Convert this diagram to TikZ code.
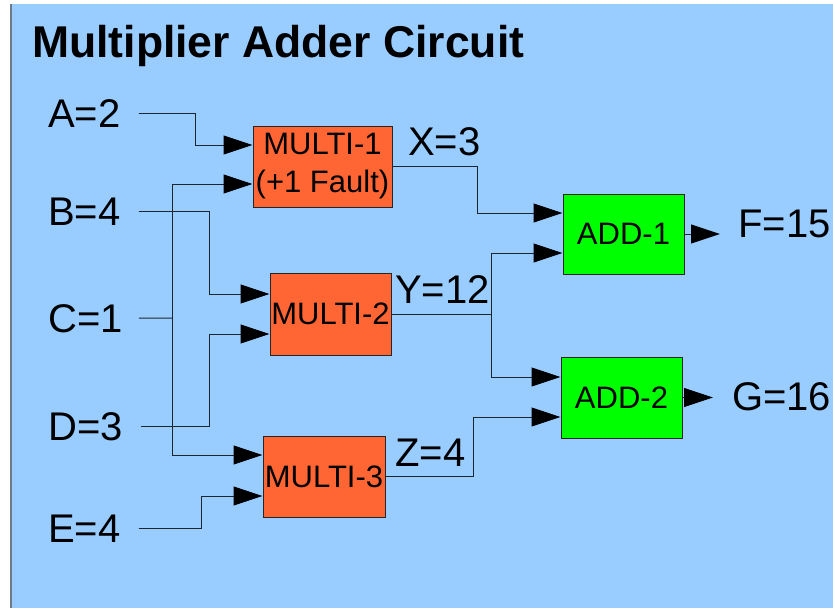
\documentclass[tikz,border=0pt]{standalone}
\usepackage{fontspec}
\setmainfont{Liberation Sans}
\usetikzlibrary{arrows.meta}
\definecolor{bgblue}{HTML}{99CCFF}
\definecolor{multorange}{HTML}{FF6633}
\definecolor{addgreen}{HTML}{00FF00}
\definecolor{framegray}{HTML}{6E7A86}
\definecolor{wiregray}{HTML}{1C2632}

\tikzset{
  wire/.style={draw=wiregray, line width=1pt},
  feed/.style={wire, -{Triangle[length=29pt,width=19pt,color=black]}},
  gate/.style={draw=black!85, line width=1pt, align=center, inner sep=0pt,
    font=\fontsize{31}{38}\selectfont},
  multbox/.style={gate, fill=multorange},
  addbox/.style={gate, fill=addgreen},
  sig/.style={inner sep=0pt, anchor=base west, font=\fontsize{40}{44}\selectfont},
}

\begin{document}
\begin{tikzpicture}[x=1pt,y=-1pt]
  \useasboundingbox (0,0) rectangle (833,608);
  \fill[bgblue] (11,4) rectangle (833,608);
  \draw[framegray, line width=2pt] (11,4) -- (11,608);

  \node[inner sep=0pt, anchor=base west, font=\fontsize{44.5}{48}\selectfont\bfseries]
    (title) at (32,57) {Multiplier Adder Circuit};

  % inputs
  \node[sig] (A) at (48,127) {A=2};
  \node[sig] (B) at (48,225) {B=4};
  \node[sig] (C) at (48,332) {C=1};
  \node[sig] (D) at (48,440) {D=3};
  \node[sig] (E) at (48,542) {E=4};

  % gates
  \node[multbox, minimum width=139pt, minimum height=81pt] (M1) at (322.5,166.5) {MULTI-1\\(+1 Fault)};
  \node[multbox, minimum width=121pt, minimum height=82pt] (M2) at (330.5,314) {MULTI-2};
  \node[multbox, minimum width=122pt, minimum height=81pt] (M3) at (324,476.5) {MULTI-3};
  \node[addbox, minimum width=121pt, minimum height=80pt] (ADD1) at (623.5,234) {ADD-1};
  \node[addbox, minimum width=121pt, minimum height=81pt] (ADD2) at (621.5,397.5) {ADD-2};

  % intermediate and outputs
  \node[sig] (X) at (408,155) {X=3};
  \node[sig] (Y) at (395,303) {Y=12};
  \node[sig] (Z) at (395,466) {Z=4};
  \node[sig] (F) at (738,237) {F=15};
  \node[sig] (G) at (732,410) {G=16};

  \coordinate (cjoin) at (172,318);
  \coordinate (ysplit) at (491,314);

  % wires
  \draw[feed] ([xshift=18pt]A.east) -- ++(57,0) |- ([yshift=21.5pt]M1.west);
  \draw[feed] ([xshift=18pt]B.east) -- ++(71,0) |- ([yshift=20pt]M2.west);
  \draw[wire] ([xshift=16pt]C.east) -- (cjoin);
  \draw[feed] (cjoin) |- ([yshift=-17.5pt]M1.west);
  \draw[feed] (cjoin) |- ([yshift=21.5pt]M3.west);
  \draw[feed] ([xshift=18pt]D.east) -- ++(69,0) |- ([yshift=-20pt]M2.west);
  \draw[feed] ([xshift=18pt]E.east) -- ++(63,0) |- ([yshift=-19.5pt]M3.west);

  \draw[feed] (M1.east) -- ++(85,0) |- ([yshift=21pt]ADD1.west);
  \draw[wire] (M2.east) -- (ysplit);
  \draw[feed] (ysplit) |- ([yshift=-19pt]ADD1.west);
  \draw[feed] (ysplit) |- ([yshift=20.5pt]ADD2.west);
  \draw[feed] (M3.east) -- ++(88,0) |- ([yshift=-19.5pt]ADD2.west);

  \draw[feed, shorten >=18pt] (ADD1.east) -- (ADD1.east -| F.west);
  \draw[feed, shorten >=19pt] (ADD2.east) -- (ADD2.east -| G.west);
\end{tikzpicture}
\end{document}
